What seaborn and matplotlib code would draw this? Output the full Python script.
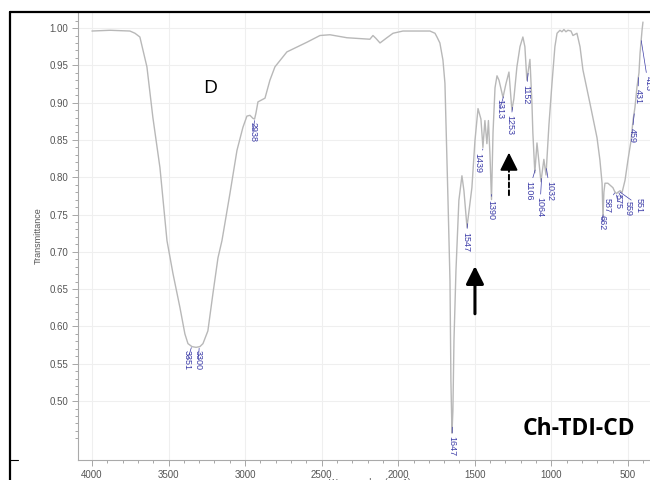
"""
FTIR spectrum of Ch-TDI-CD (transmittance vs wavenumber)
redrawn with seaborn / matplotlib
"""

import numpy as np
import pandas as pd
import matplotlib
matplotlib.use('Agg')
import matplotlib.pyplot as plt
from matplotlib.lines import Line2D
import seaborn as sns


# spectrum (cm-1, transmittance)
wavenumber = [4000, 3882, 3752, 3719, 3687, 3641, 3602, 3556, 3510, 3471,
              3425, 3393, 3373, 3347, 3320, 3295, 3275, 3243, 3210, 3177,
              3151, 3099, 3053, 3014, 2988, 2968, 2949, 2938, 2929, 2916,
              2870, 2838, 2805, 2727, 2596, 2511, 2446, 2335, 2185, 2165,
              2145, 2119, 2074, 2034, 1969, 1793, 1760, 1747, 1728, 1708,
              1695, 1675, 1662, 1656, 1649, 1643, 1636, 1623, 1604, 1584,
              1571, 1551, 1538, 1519, 1499, 1479, 1460, 1447, 1434, 1421,
              1411, 1401, 1391, 1381, 1368, 1355, 1342, 1316, 1297, 1277,
              1258, 1245, 1225, 1205, 1186, 1173, 1160, 1140, 1127, 1121,
              1108, 1094, 1081, 1068, 1049, 1035, 1016, 996, 977, 963,
              944, 931, 918, 905, 892, 872, 859, 833, 813, 794,
              748, 702, 683, 669, 663, 657, 650, 631, 598, 587,
              575, 565, 551, 539, 519, 500, 480, 467, 454, 441,
              428, 421, 408, 402]
transmittance = [0.996, 0.997, 0.996, 0.993, 0.988, 0.948, 0.880, 0.813, 0.715, 0.671,
                 0.625, 0.590, 0.577, 0.573, 0.572, 0.573, 0.577, 0.594, 0.644, 0.692,
                 0.715, 0.778, 0.836, 0.867, 0.882, 0.883, 0.879, 0.878, 0.886, 0.901,
                 0.906, 0.930, 0.948, 0.968, 0.981, 0.990, 0.991, 0.987, 0.985, 0.990,
                 0.986, 0.980, 0.987, 0.993, 0.996, 0.996, 0.993, 0.988, 0.980, 0.957,
                 0.926, 0.769, 0.661, 0.527, 0.457, 0.487, 0.581, 0.675, 0.769, 0.802,
                 0.782, 0.733, 0.755, 0.786, 0.849, 0.892, 0.878, 0.840, 0.876, 0.845,
                 0.876, 0.830, 0.770, 0.860, 0.920, 0.936, 0.930, 0.907, 0.925, 0.941,
                 0.890, 0.905, 0.948, 0.975, 0.988, 0.975, 0.930, 0.958, 0.900, 0.860,
                 0.806, 0.846, 0.820, 0.794, 0.824, 0.803, 0.870, 0.926, 0.975, 0.993,
                 0.997, 0.995, 0.998, 0.995, 0.997, 0.996, 0.990, 0.993, 0.975, 0.944,
                 0.899, 0.853, 0.823, 0.792, 0.746, 0.780, 0.792, 0.792, 0.786, 0.781,
                 0.778, 0.780, 0.782, 0.779, 0.796, 0.823, 0.849, 0.876, 0.894, 0.921,
                 0.940, 0.966, 0.997, 1.008]

# peak picks shown on the spectrum
peak_labels = ['3351', '3300', '2938', '1647', '1547', '1439', '1390', '1313',
               '1253', '1152', '1106', '1064', '1032', '662', '587', '575',
               '559', '551', '459', '431', '413']
peak_wn = [3351, 3300, 2938, 1647, 1547, 1447, 1390, 1313, 1253, 1152, 1106,
           1064, 1032, 662, 587, 575, 559, 551, 459, 431, 413]

x_ticks = [4000, 3500, 3000, 2500, 2000, 1500, 1000, 500]
y_ticks = [0.50, 0.55, 0.60, 0.65, 0.70, 0.75, 0.80, 0.85, 0.90, 0.95, 1.00]

# where each peak label sits (cm-1, transmittance of its top end)
label_pos = [(3375, 0.569), (3305, 0.569), (2949, 0.874), (1649, 0.453),
             (1558, 0.727), (1479, 0.832), (1394, 0.770), (1336, 0.905),
             (1270, 0.883), (1166, 0.924), (1146, 0.795), (1075, 0.773),
             (1009, 0.795), (670, 0.750), (637, 0.772), (565, 0.777),
             (500, 0.768), (428, 0.772), (474, 0.866), (435, 0.918),
             (369, 0.936)]

BLUE = '#3d3da8'
HEAD = '-|>,head_length=0.9,head_width=0.45'


def plot(df):
    sns.set_style('white')
    plt.rcParams['font.family'] = ['Liberation Sans', 'DejaVu Sans']

    fig = plt.figure(figsize=(6.5, 4.8), dpi=100)
    ax = fig.add_axes([78 / 650, 20 / 480, 1 - 78 / 650, 448 / 480])

    sns.lineplot(data=df, x='wavenumber', y='transmittance', ax=ax,
                 sort=False, estimator=None, color='#b8b8b8', linewidth=1.0)

    ax.set_xlim(4091, 356)
    ax.set_ylim(0.421, 1.0215)
    ax.set_xticks(x_ticks)
    ax.set_xticks(np.arange(4000, 300, -100), minor=True)
    ax.set_yticks(y_ticks)
    ax.set_yticks(np.arange(0.45, 1.01, 0.01), minor=True)
    ax.set_yticklabels(['%.2f' % v for v in y_ticks])

    ax.grid(True, which='major', color='#efefef', linewidth=0.8)
    ax.tick_params(which='both', direction='out', colors='#999999',
                   labelcolor='#555555', labelsize=7, width=0.6)
    ax.tick_params(which='major', length=4)
    ax.tick_params(which='minor', length=2)
    ax.tick_params(axis='y', which='both', left=True, pad=3)
    ax.tick_params(axis='x', which='both', bottom=True, pad=3)
    for side in ['top', 'right']:
        ax.spines[side].set_visible(False)
    for side in ['left', 'bottom']:
        ax.spines[side].set_color('#aaaaaa')
        ax.spines[side].set_linewidth(0.8)

    ax.set_xlabel('Wavenumber (cm-1)', fontsize=6.5, color='#555555')
    ax.set_ylabel('Transmittance', fontsize=6.5, color='#555555')
    ax.xaxis.set_label_coords(0.51, -0.04)
    ax.yaxis.set_label_coords(-0.062, 0.5)

    # peak labels with small leader lines
    wn_sorted = df['wavenumber'].values[::-1]
    t_sorted = df['transmittance'].values[::-1]
    for lab, wn, pos in zip(peak_labels, peak_wn, label_pos):
        t = np.interp(wn, wn_sorted, t_sorted)
        ax.annotate(lab, xy=(wn, t - 0.002), xytext=pos, rotation=270,
                    ha='center', va='top', fontsize=6.5, color=BLUE,
                    arrowprops=dict(arrowstyle='-', color=BLUE, lw=0.5,
                                    shrinkA=0, shrinkB=0),
                    annotation_clip=False)

    ax.text(3229, 0.919, 'D', fontsize=14, ha='center', va='center',
            color='black', family='Open Sans')
    ax.text(820, 0.462, 'Ch-TDI-CD', fontsize=16.5, fontweight='bold',
            ha='center', va='center', color='black', family='Open Sans')

    # solid arrow
    ax.annotate('', xy=(1499, 0.681), xytext=(1499, 0.617),
                arrowprops=dict(arrowstyle=HEAD, color='black', lw=2.2,
                                shrinkA=0, shrinkB=0, mutation_scale=12))
    # dashed arrow: dashed shaft + solid head
    ax.annotate('', xy=(1277, 0.821), xytext=(1277, 0.776),
                arrowprops=dict(arrowstyle='-', color='black', lw=1.4,
                                ls=(0, (2.5, 1.5)), shrinkA=0, shrinkB=0))
    ax.annotate('', xy=(1277, 0.833), xytext=(1277, 0.815),
                arrowprops=dict(arrowstyle=HEAD, color='black', lw=1.4,
                                shrinkA=0, shrinkB=0, mutation_scale=12))

    # outer frame of the screenshot
    fig.add_artist(Line2D([10 / 650, 1], [1 - 12 / 480, 1 - 12 / 480],
                          transform=fig.transFigure, color='black', lw=1.6))
    fig.add_artist(Line2D([10 / 650, 10 / 650], [0, 1 - 12 / 480],
                          transform=fig.transFigure, color='black', lw=1.6))
    fig.add_artist(Line2D([10 / 650, 18 / 650], [20 / 480, 20 / 480],
                          transform=fig.transFigure, color='black', lw=0.8))

    fig.savefig('out.png', dpi=100)


def main():
    df = pd.DataFrame({'wavenumber': wavenumber,
                       'transmittance': transmittance})
    plot(df)


if __name__ == '__main__':
    main()
